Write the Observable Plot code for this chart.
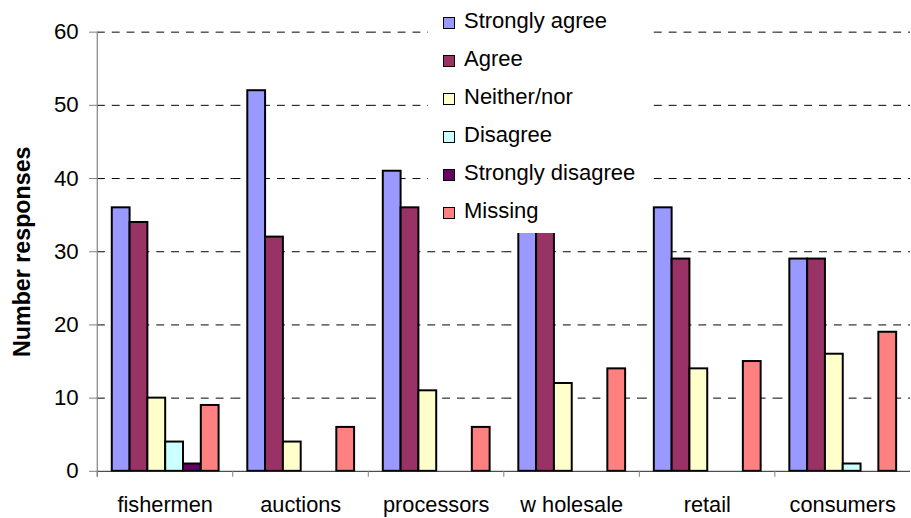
<!DOCTYPE html>
<html>
<head>
<meta charset="utf-8">
<script src="https://cdn.jsdelivr.net/npm/d3@7"></script>
<script src="https://cdn.jsdelivr.net/npm/@observablehq/plot@0.6"></script>
<style>
  html, body { margin: 0; padding: 0; background: #fff; overflow: hidden; }
  #chart { position: relative; width: 911px; height: 518px; overflow: hidden; font-family: "Liberation Sans", Arial, sans-serif; }
  #chart svg { position: absolute; left: 0; top: 0; }
  g[aria-label="y-axis label"] text { font-weight: bold; font-size: 23.5px; }
  #legend { position: absolute; left: 428px; top: 0; width: 221px; height: 233px; background: #fff; }
  #legend .row { position: absolute; left: 0; width: 100%; height: 38px; }
  #legend .sw { position: absolute; left: 15px; top: 16.5px; width: 10px; height: 10px; border: 1.6px solid #000; }
  #legend .lab { position: absolute; left: 36px; top: 10px; font-size: 22px; line-height: 21px; color: #000; white-space: nowrap; }
</style>
</head>
<body>
<div id="chart"></div>
<script>
// Respondent groups and answer categories
const groups = ["fishermen", "auctions", "processors", "w holesale", "retail", "consumers"];
const answers = ["Strongly agree", "Agree", "Neither/nor", "Disagree", "Strongly disagree", "Missing"];
const answerColors = ["#9999FF", "#993366", "#FFFFCC", "#CCFFFF", "#660066", "#FF8080"];

// Number of responses per group, one array per answer
const stronglyAgree    = [36, 52, 41, 37, 36, 29];
const agree            = [34, 32, 36, 36, 29, 29];
const neitherNor       = [10, 4, 11, 12, 14, 16];
const disagree         = [4, 0, 0, 0, 0, 1];
const stronglyDisagree = [1, 0, 0, 0, 0, 0];
const missing          = [9, 6, 6, 14, 15, 19];

const yTicks = [0, 10, 20, 30, 40, 50, 60];

const series = [stronglyAgree, agree, neitherNor, disagree, stronglyDisagree, missing];
const rows = [];
groups.forEach((g, gi) => {
  answers.forEach((a, ai) => {
    const v = series[ai][gi];
    if (v > 0) rows.push({group: g, answer: a, value: v});
  });
});

const W = 921, H = 518, ML = 97, MR = 0, MT = 32, MB = 42;
const step = (W - ML - MR) / groups.length;
const font = "Liberation Sans, Arial, sans-serif";

const chart = Plot.plot({
  width: W,
  height: H,
  marginLeft: ML,
  marginRight: MR,
  marginTop: MT,
  marginBottom: MB,
  style: {fontFamily: font, fontSize: "22px", background: "transparent", overflow: "visible"},
  fx: {domain: groups, padding: 0},
  x: {domain: answers, paddingInner: 0, paddingOuter: 0.73, axis: null},
  y: {domain: [0, 60]},
  color: {domain: answers, range: answerColors},
  marks: [
    Plot.gridY({ticks: yTicks.slice(1), stroke: "#000", strokeOpacity: 1, strokeWidth: 1, strokeDasharray: "8,7"}),
    Plot.barY(rows, {fx: "group", x: "answer", y: "value", fill: "answer", stroke: "#000", strokeWidth: 2, inset: 0}),
    Plot.ruleY([0], {stroke: "#222", strokeWidth: 1}),
    Plot.ruleX([groups[0]], {fx: d => d, x: null, dx: -step / 2, insetBottom: -6, stroke: "#808080", strokeWidth: 1.2}),
    Plot.axisY({ticks: yTicks, tickSize: 8, tickPadding: 11, stroke: "#808080", fontSize: 22.5, fill: "#000",
      label: "Number responses", labelAnchor: "center", labelOffset: 85, labelArrow: "none"}),
    Plot.axisFx({anchor: "bottom", tickSize: 6, dx: -step / 2, tickFormat: () => "", stroke: "#808080", label: null}),
    Plot.axisFx({anchor: "bottom", tickSize: 0, tickPadding: 26, fontSize: 22, fill: "#000", label: null})
  ]
});

const root = document.getElementById("chart");
root.appendChild(chart);

// Legend box drawn over the upper middle of the plot
const legend = document.createElement("div");
legend.id = "legend";
answers.forEach((a, i) => {
  const row = document.createElement("div");
  row.className = "row";
  row.style.top = (38 * i) + "px";
  const sw = document.createElement("span");
  sw.className = "sw";
  sw.style.background = answerColors[i];
  const lab = document.createElement("span");
  lab.className = "lab";
  lab.textContent = a;
  row.appendChild(sw);
  row.appendChild(lab);
  legend.appendChild(row);
});
root.appendChild(legend);
</script>
</body>
</html>
